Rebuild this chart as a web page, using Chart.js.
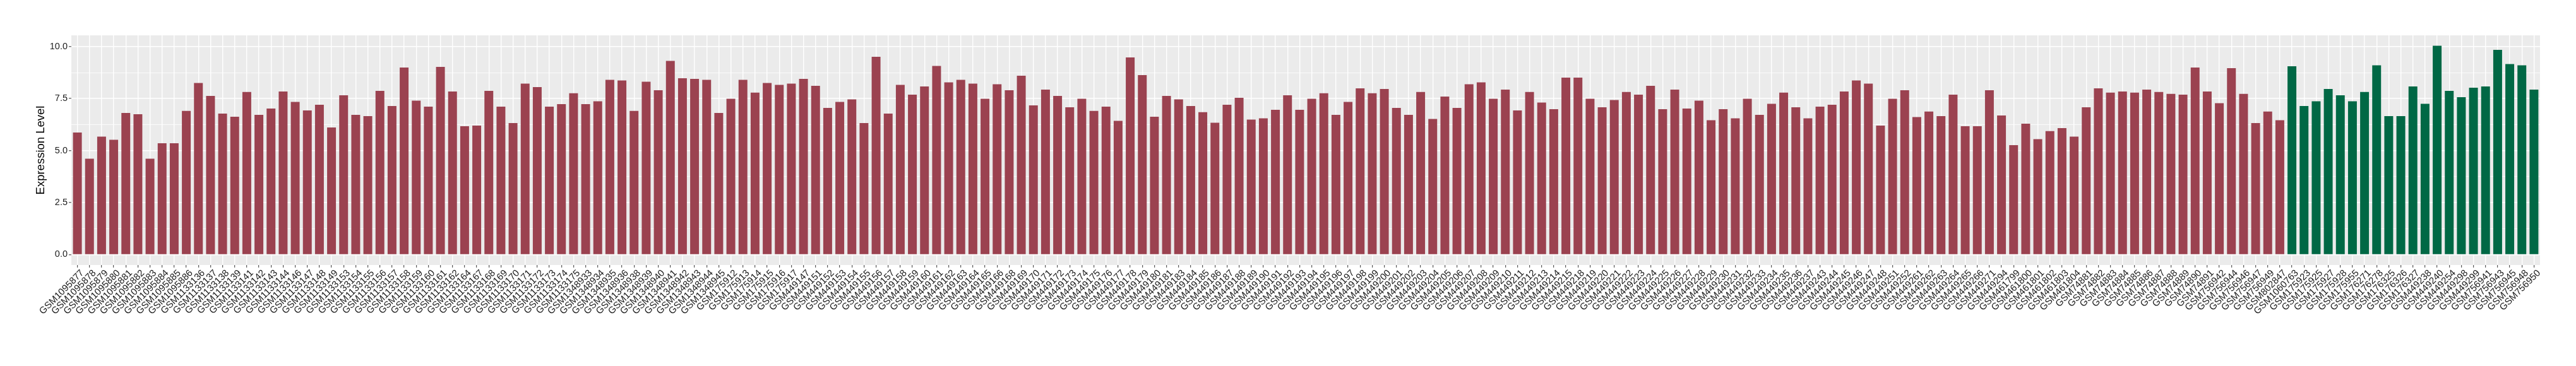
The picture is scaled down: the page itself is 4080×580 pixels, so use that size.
<!DOCTYPE html>
<html>
<head>
<meta charset="utf-8">
<script src="https://cdn.jsdelivr.net/npm/chart.js@4.4.1/dist/chart.umd.min.js"></script>
<style>
  html, body { margin: 0; padding: 0; background: #fff; }
  #wrap { width: 4080px; height: 580px; }
</style>
</head>
<body>
<div id="wrap"><canvas id="exprChart" width="4080" height="580"></canvas></div>
<script>
// samples in the first (red) group
const samplesA = [
  'GSM1095877','GSM1095878','GSM1095879','GSM1095880','GSM1095881','GSM1095882','GSM1095883','GSM1095884','GSM1095885','GSM1095886',
  'GSM1133136','GSM1133137','GSM1133138','GSM1133139','GSM1133141','GSM1133142','GSM1133143','GSM1133144','GSM1133146','GSM1133147',
  'GSM1133148','GSM1133149','GSM1133153','GSM1133154','GSM1133155','GSM1133156','GSM1133157','GSM1133158','GSM1133159','GSM1133160',
  'GSM1133161','GSM1133162','GSM1133164','GSM1133167','GSM1133168','GSM1133169','GSM1133170','GSM1133171','GSM1133172','GSM1133173',
  'GSM1133174','GSM1133175','GSM1348933','GSM1348934','GSM1348935','GSM1348936','GSM1348938','GSM1348939','GSM1348940','GSM1348941',
  'GSM1348942','GSM1348943','GSM1348944','GSM1348945','GSM175912','GSM175913','GSM175914','GSM175915','GSM175916','GSM175917',
  'GSM449147','GSM449151','GSM449152','GSM449153','GSM449154','GSM449155','GSM449156','GSM449157','GSM449158','GSM449159',
  'GSM449160','GSM449161','GSM449162','GSM449163','GSM449164','GSM449165','GSM449166','GSM449168','GSM449169','GSM449170',
  'GSM449171','GSM449172','GSM449173','GSM449174','GSM449175','GSM449176','GSM449177','GSM449178','GSM449179','GSM449180',
  'GSM449181','GSM449183','GSM449184','GSM449185','GSM449186','GSM449187','GSM449188','GSM449189','GSM449190','GSM449191',
  'GSM449192','GSM449193','GSM449194','GSM449195','GSM449196','GSM449197','GSM449198','GSM449199','GSM449200','GSM449201',
  'GSM449202','GSM449203','GSM449204','GSM449205','GSM449206','GSM449207','GSM449208','GSM449209','GSM449210','GSM449211',
  'GSM449212','GSM449213','GSM449214','GSM449215','GSM449218','GSM449219','GSM449220','GSM449221','GSM449222','GSM449223',
  'GSM449224','GSM449225','GSM449226','GSM449227','GSM449228','GSM449229','GSM449230','GSM449231','GSM449232','GSM449233',
  'GSM449234','GSM449235','GSM449236','GSM449237','GSM449243','GSM449244','GSM449245','GSM449246','GSM449247','GSM449248',
  'GSM449251','GSM449252','GSM449261','GSM449262','GSM449263','GSM449264','GSM449265','GSM449266','GSM449271','GSM449294',
  'GSM461799','GSM461800','GSM461801','GSM461802','GSM461803','GSM461804','GSM74881','GSM74882','GSM74883','GSM74884',
  'GSM74885','GSM74886','GSM74887','GSM74888','GSM74889','GSM74890','GSM74891','GSM756942','GSM756944','GSM756946',
  'GSM756947','GSM756949','GSM802847'
];
const valuesA = [
  5.87,4.61,5.67,5.52,6.81,6.75,4.61,5.35,5.35,6.91,8.25,7.63,
  6.78,6.63,7.82,6.72,7.02,7.84,7.34,6.93,7.20,6.11,7.66,6.72,6.66,7.87,7.14,8.99,7.40,7.11,
  9.02,7.84,6.17,6.20,7.87,7.11,6.32,8.22,8.05,7.11,7.23,7.76,7.23,7.37,8.40,8.37,6.91,
  8.31,7.90,9.31,8.48,8.45,8.40,6.81,7.49,8.40,7.79,8.25,8.16,8.22,8.45,8.11,7.05,7.34,7.46,
  6.32,9.51,6.78,8.16,7.69,8.08,9.07,8.28,8.40,8.22,7.49,8.19,7.90,8.60,7.17,7.93,7.63,7.08,
  7.49,6.91,7.11,6.43,9.48,8.63,6.63,7.63,7.46,7.14,6.85,6.34,7.20,7.54,6.49,6.55,6.96,7.66,
  6.96,7.49,7.76,6.72,7.34,7.99,7.76,7.96,7.05,6.72,7.82,6.52,7.60,7.05,8.19,8.28,7.49,
  7.93,6.93,7.82,7.31,6.99,8.51,8.51,7.49,7.08,7.43,7.82,7.69,8.11,6.99,7.93,7.02,7.40,6.46,
  6.99,6.55,7.49,6.72,7.25,7.79,7.08,6.55,7.11,7.20,7.84,8.37,8.22,6.20,7.49,7.90,6.61,6.88,
  6.66,7.69,6.17,6.17,7.90,6.69,5.26,6.29,5.55,5.94,6.08,5.67,
  7.08,7.99,7.79,7.84,7.79,7.93,7.82,7.73,7.69,8.99,7.84,
  7.28,8.96,7.73,6.32,6.88,6.46
];

// samples in the second (green) group
const samplesB = [
  'GSM1060763','GSM175923','GSM175925','GSM175927','GSM175928','GSM175955','GSM176271','GSM176278','GSM176325','GSM176326',
  'GSM176327','GSM449238','GSM449240','GSM449254','GSM449298','GSM449299','GSM756941','GSM756943','GSM756945','GSM756948',
  'GSM756950'
];
const valuesB = [
  9.05,7.14,7.37,7.96,7.66,7.37,7.82,9.10,6.66,6.66,
  8.08,7.25,10.04,7.87,7.57,8.02,8.08,9.84,9.16,9.10,
  7.93
];

const yTicks = [0, 2.5, 5, 7.5, 10];

const colorA = '#9B4250';
const colorB = '#006845';

const labels = samplesA.concat(samplesB);
const values = valuesA.concat(valuesB);
const barColors = samplesA.map(() => colorA).concat(samplesB.map(() => colorB));

// ggplot-like grey panel behind the bars
const panelBg = {
  id: 'panelBg',
  beforeDraw(chart) {
    const { ctx, chartArea } = chart;
    ctx.save();
    ctx.fillStyle = '#EBEBEB';
    ctx.fillRect(chartArea.left, chartArea.top, chartArea.right - chartArea.left, chartArea.bottom - chartArea.top);
    ctx.restore();
  }
};

const isMajor = v => yTicks.some(t => Math.abs(t - v) < 1e-6);

const ctx = document.getElementById('exprChart').getContext('2d');
new Chart(ctx, {
  type: 'bar',
  data: {
    labels: labels,
    datasets: [{
      label: 'Expression Level',
      data: values,
      backgroundColor: barColors,
      borderWidth: 0,
      barPercentage: 0.73,
      categoryPercentage: 1.0
    }]
  },
  options: {
    responsive: false,
    animation: false,
    devicePixelRatio: 1,
    layout: { padding: { top: 56, right: 57, left: 0, bottom: 0 } },
    plugins: {
      legend: { display: false },
      tooltip: { enabled: false }
    },
    scales: {
      x: {
        offset: true,
        border: { display: false },
        grid: {
          offset: false,
          color: '#FFFFFF',
          lineWidth: 1.4,
          drawTicks: true,
          tickLength: 4,
          tickColor: '#333333',
          tickWidth: 1
        },
        ticks: {
          autoSkip: false,
          maxRotation: 45,
          minRotation: 45,
          padding: 0,
          labelOffset: 8,
          color: '#1A1A1A',
          font: { family: 'Liberation Sans', size: 15 }
        },
        afterFit(scale) { scale.height = 160; }
      },
      y: {
        min: -0.502,
        max: 10.54,
        border: { display: false },
        grid: {
          color: '#FFFFFF',
          lineWidth: c => (c.tick && isMajor(c.tick.value)) ? 1.6 : 0.8,
          drawTicks: true,
          tickLength: 4,
          tickColor: c => (c.tick && isMajor(c.tick.value)) ? '#333333' : 'rgba(0,0,0,0)',
          tickWidth: 1
        },
        ticks: {
          stepSize: 1.25,
          includeBounds: false,
          padding: 2,
          color: '#1A1A1A',
          font: { family: 'Liberation Sans', size: 14.5 },
          callback: v => isMajor(v) ? v.toFixed(1) : ''
        },
        title: {
          display: true,
          text: 'Expression Level',
          color: '#000000',
          font: { family: 'Liberation Sans', size: 18.5 },
          padding: { top: 54, bottom: 0 }
        },
        afterFit(scale) { scale.width = 113; }
      }
    }
  },
  plugins: [panelBg]
});
</script>
</body>
</html>
